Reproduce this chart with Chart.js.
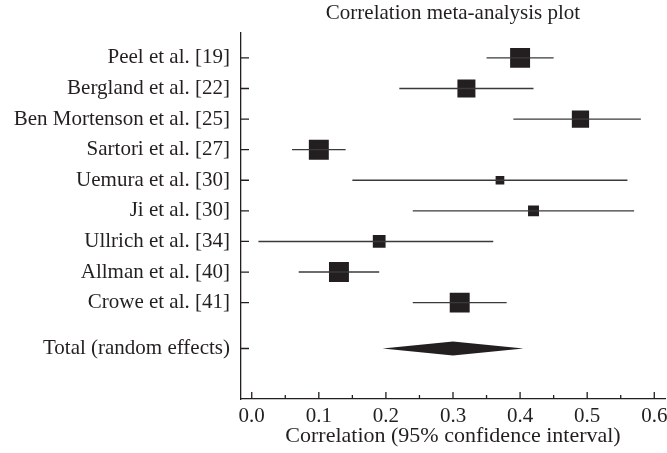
<!DOCTYPE html>
<html>
<head>
<meta charset="utf-8">
<title>Correlation meta-analysis plot</title>
<script src="https://cdn.jsdelivr.net/npm/chart.js@4.4.1/dist/chart.umd.min.js"></script>
<style>
  html, body { margin: 0; padding: 0; background: #fff; }
  #wrap { width: 667px; height: 453px; }
</style>
</head>
<body>
<div id="wrap"><canvas id="forest"></canvas></div>
<script>
// Données
const studies = ['Peel et al. [19]', 'Bergland et al. [22]', 'Ben Mortenson et al. [25]', 'Sartori et al. [27]',
                 'Uemura et al. [30]', 'Ji et al. [30]', 'Ullrich et al. [34]', 'Allman et al. [40]', 'Crowe et al. [41]'];
const estimates = [0.40, 0.32, 0.49, 0.10, 0.37, 0.42, 0.19, 0.13, 0.31];
const lower     = [0.35, 0.22, 0.39, 0.06, 0.15, 0.24, 0.01, 0.07, 0.24];
const upper     = [0.45, 0.42, 0.58, 0.14, 0.56, 0.57, 0.36, 0.19, 0.38];
const weights   = [13.3, 12.0, 11.5, 13.3, 5.8, 7.3, 8.5, 13.3, 13.3]; // poids (%)

const pooledLabel = 'Total (random effects)';
const pooled = [0.195, 0.30, 0.405]; // bas, estimation, haut

const xTicks = [0.0, 0.1, 0.2, 0.3, 0.4, 0.5, 0.6];
const xMinorTicks = [0.05, 0.15, 0.25, 0.35, 0.45, 0.55];

document.addEventListener('DOMContentLoaded', () => {
    const ink = '#231f20';
    const serif = "'Liberation Serif', 'Times New Roman', serif";

    const rows = studies.map((_, i) => i + 1);
    const totalRow = studies.length + 1.5;
    const yLabels = {};
    rows.forEach((r, i) => { yLabels[r] = studies[i]; });
    yLabels[totalRow] = pooledLabel;

    // un segment par étude pour l'intervalle de confiance
    const ciSets = studies.map((s, i) => ({
        label: s,
        data: [{ x: lower[i], y: rows[i] }, { x: upper[i], y: rows[i] }],
        showLine: true,
        borderColor: '#3a3a3a',
        borderWidth: 1.4,
        pointRadius: 0
    }));

    const boxes = {
        label: 'Estimations',
        data: estimates.map((e, i) => ({ x: e, y: rows[i] })),
        pointStyle: 'rect',
        pointRadius: weights.map(w => w * 1.5 / Math.SQRT2),
        backgroundColor: ink,
        borderColor: ink,
        borderWidth: 0
    };

    // ticks tournés vers l'intérieur + losange du total
    const forestExtras = {
        id: 'forestExtras',
        afterDatasetsDraw(chart) {
            const { ctx, chartArea, scales: { x, y } } = chart;
            ctx.save();
            ctx.strokeStyle = ink;
            ctx.lineWidth = 1.3;
            ctx.beginPath();
            y.ticks.forEach(t => {
                const py = y.getPixelForValue(t.value);
                ctx.moveTo(chartArea.left, py);
                ctx.lineTo(chartArea.left + 8, py);
            });
            xTicks.forEach(v => {
                const px = x.getPixelForValue(v);
                ctx.moveTo(px, chartArea.bottom);
                ctx.lineTo(px, chartArea.bottom - 7);
            });
            xMinorTicks.forEach(v => {
                const px = x.getPixelForValue(v);
                ctx.moveTo(px, chartArea.bottom);
                ctx.lineTo(px, chartArea.bottom - 4);
            });
            ctx.stroke();

            const cy = y.getPixelForValue(totalRow);
            ctx.fillStyle = ink;
            ctx.beginPath();
            ctx.moveTo(x.getPixelForValue(pooled[0]), cy);
            ctx.lineTo(x.getPixelForValue(pooled[1]), cy - 7);
            ctx.lineTo(x.getPixelForValue(pooled[2]), cy);
            ctx.lineTo(x.getPixelForValue(pooled[1]), cy + 7);
            ctx.closePath();
            ctx.fill();
            ctx.restore();
        }
    };

    new Chart(document.getElementById('forest'), {
        type: 'scatter',
        data: { datasets: [...ciSets, boxes] },
        options: {
            responsive: true,
            maintainAspectRatio: false,
            animation: false,
            layout: { autoPadding: false, padding: { left: 0, right: 2, top: 0, bottom: 0 } },
            plugins: {
                legend: { display: false },
                tooltip: { enabled: false },
                title: {
                    display: true,
                    text: 'Correlation meta-analysis plot',
                    fullSize: false,
                    color: ink,
                    font: { family: serif, size: 21, weight: 'normal', lineHeight: 1.2 },
                    padding: { top: 1, bottom: 6 }
                }
            },
            scales: {
                x: {
                    type: 'linear',
                    min: -0.016,
                    max: 0.616,
                    afterBuildTicks: s => { s.ticks = xTicks.map(v => ({ value: v })); },
                    afterFit: s => { s.height = 54; s.paddingLeft = 0; s.paddingRight = 0; },
                    grid: { display: false, drawTicks: true, tickLength: 5 },
                    border: { display: true, color: ink, width: 1.3 },
                    ticks: {
                        color: ink,
                        padding: 0,
                        maxRotation: 0,
                        font: { family: serif, size: 21 },
                        callback: v => Number(v).toFixed(1)
                    },
                    title: {
                        display: true,
                        text: 'Correlation (95% confidence interval)',
                        color: ink,
                        font: { family: serif, size: 22 },
                        padding: { top: 4, bottom: 4 }
                    }
                },
                y: {
                    type: 'linear',
                    reverse: true,
                    min: 0.16,
                    max: 12.15,
                    afterBuildTicks: s => { s.ticks = [...rows, totalRow].map(v => ({ value: v })); },
                    afterFit: s => { s.width = 241; },
                    grid: { display: false, drawTicks: false },
                    border: { display: true, color: ink, width: 1.3 },
                    ticks: {
                        color: ink,
                        padding: 11,
                        autoSkip: false,
                        font: { family: serif, size: 21 },
                        callback: v => yLabels[v]
                    }
                }
            }
        },
        plugins: [forestExtras]
    });
});
</script>
</body>
</html>
